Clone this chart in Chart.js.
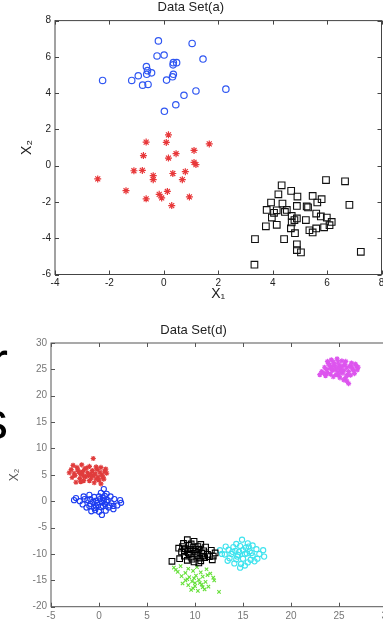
<!DOCTYPE html>
<html>
<head>
<meta charset="utf-8">
<script src="https://cdn.jsdelivr.net/npm/chart.js@4"></script>
<style>
  html, body { margin: 0; padding: 0; overflow: hidden; background: #fff; width: 383px; height: 621px; }
  .panel { position: absolute; left: 0; }
  .big { position: absolute; left: -92px; width: 100px; text-align: right; font: 54px "Liberation Sans", Arial, sans-serif; line-height: 1; color: #000; }
</style>
</head>
<body>
<div class="big" style="top:333px">r</div>
<div class="big" style="top:393px">s</div>
<div class="panel" style="top:0"><canvas id="chartA" width="400" height="310"></canvas></div>
<div class="panel" style="top:310px"><canvas id="chartD" width="400" height="330"></canvas></div>
<script>
// Data Set(a) – drei Gruppen
const aBlue = [[-2.25,4.7],[-0.2,6.88],[1.04,6.74],[-0.25,6.05],[0.01,6.1],[0.35,5.68],[0.47,5.68],[0.34,5.56],[1.44,5.88],[-0.64,5.46],[-0.6,5.24],[-0.45,5.12],[-0.63,5.04],[-0.94,4.96],[-1.18,4.7],[0.35,5.04],[0.32,4.9],[0.1,4.72],[-0.78,4.44],[-0.58,4.48],[1.18,4.12],[2.28,4.22],[0.74,3.88],[0.44,3.36],[0.02,3.0]];
const aRed = [[0.17,1.7],[-0.65,1.3],[0.09,1.28],[1.67,1.2],[1.11,0.84],[-0.75,0.56],[0.45,0.66],[0.17,0.42],[1.11,0.18],[1.18,0.06],[-1.1,-0.28],[-0.79,-0.26],[-0.39,-0.55],[0.33,-0.43],[0.79,-0.33],[-0.39,-0.77],[0.68,-0.77],[-2.43,-0.73],[-1.39,-1.38],[-0.17,-1.58],[-0.08,-1.78],[0.13,-1.42],[-0.65,-1.83],[0.94,-1.72],[0.29,-2.2]];
const aBlack = [[4.33,-1.08],[5.96,-0.79],[6.66,-0.86],[4.21,-1.58],[4.68,-1.39],[4.91,-1.7],[5.47,-1.67],[5.8,-1.85],[5.64,-2.03],[6.82,-2.16],[3.94,-2.03],[4.36,-2.09],[3.78,-2.44],[4.15,-2.46],[4.52,-2.44],[4.89,-2.22],[5.25,-2.25],[4.7,-2.77],[4.89,-2.91],[4.7,-3.13],[5.6,-2.64],[5.77,-2.8],[5.99,-2.86],[6.17,-3.1],[6.09,-3.28],[5.22,-3.0],[3.97,-2.86],[4.15,-3.26],[3.75,-3.34],[4.67,-3.45],[4.82,-3.72],[5.35,-3.56],[5.47,-3.68],[5.6,-3.46],[5.89,-3.4],[3.35,-4.05],[4.42,-4.05],[4.89,-4.34],[4.89,-4.65],[5.04,-4.78],[7.24,-4.75],[3.33,-5.46],[4.05,-2.6],[4.45,-2.55],[5.3,-2.3],[4.8,-3.0]];

// Data Set(d) – sechs Gruppen
const dRed = [[-0.6,8.1],[-2.7,6.8],[-1.8,6.9],[-1.0,6.6],[0.2,6.4],[-2.9,6.0],[-2.2,5.9],[-1.5,6.1],[-0.7,5.8],[0.6,5.7],[-2.6,5.3],[-1.9,5.1],[-1.2,5.4],[-0.4,5.2],[0.3,5.0],[0.8,5.3],[-2.8,4.5],[-2.0,4.3],[-1.4,4.6],[-0.8,4.4],[-0.1,4.6],[0.5,4.2],[-2.4,3.6],[-1.6,3.9],[-0.5,3.5],[0.2,3.3],[-1.1,4.9],[-0.2,6.0],[-1.7,5.6],[0.0,4.0],
  [-2.3,6.4],[-1.3,6.3],[-0.3,6.5],[-2.5,4.9],[-1.6,4.8],[-0.6,4.9],[0.4,4.6],[-1.9,3.7],[-1.0,3.9],[-0.3,4.2],[0.7,6.1],[-2.1,5.6],[-0.9,5.1],[0.1,5.5],[-3.1,5.4]];
const dBlue = [[0.5,2.3],[0.2,1.6],[-1.0,1.2],[0.8,1.4],[-2.4,0.6],[-1.6,0.9],[-0.5,0.8],[0.4,0.6],[1.2,0.9],[-2.0,0.0],[-1.2,0.2],[-0.3,0.1],[0.3,-0.2],[0.9,0.2],[1.6,0.4],[2.2,0.2],[-1.7,-0.6],[-0.9,-0.5],[-0.1,-0.7],[0.6,-0.5],[1.3,-0.4],[1.9,-0.8],[-1.3,-1.2],[-0.5,-1.3],[0.2,-1.1],[1.0,-1.2],[-0.8,-1.9],[0.0,-2.0],[0.7,-1.8],[0.3,-2.6],[1.5,-1.5],[-0.2,-0.3],[0.1,0.4],[-0.6,-0.1],
  [-0.9,0.4],[0.6,1.0],[1.5,-0.9],[-1.0,-0.9],[0.4,-0.9],[-0.4,-1.7],[0.8,-0.1],[-1.5,0.4],[1.1,-0.8],[0.0,0.9],[-0.3,-1.0],[0.5,0.2],[2.3,-0.3],[-2.6,0.2]];
const dBlack = [[9.2,-7.3],[9.9,-7.6],[8.8,-8.0],[10.6,-8.2],[9.4,-8.4],[8.3,-8.9],[9.0,-9.0],[9.8,-8.8],[10.4,-9.1],[11.1,-8.7],[11.7,-9.3],[8.6,-9.6],[9.3,-9.8],[10.0,-9.5],[10.7,-9.9],[11.3,-10.1],[12.1,-9.8],[8.9,-10.4],[9.6,-10.6],[10.3,-10.3],[11.0,-10.7],[11.8,-11.1],[7.6,-11.4],[9.2,-11.2],[9.9,-11.5],[10.6,-11.3],[9.5,-9.2],[10.2,-10.0],[8.4,-10.9],[10.9,-9.4],
  [9.6,-8.1],[10.3,-8.6],[8.9,-9.4],[10.1,-9.2],[10.8,-10.4],[9.4,-10.1],[11.5,-10.5],[9.7,-11.0],[10.5,-10.8],[8.7,-8.6],[11.9,-10.4],[10.4,-11.7]];
const dCyan = [[14.9,-7.3],[14.3,-8.1],[15.5,-8.0],[13.2,-8.6],[14.0,-8.7],[14.7,-8.5],[15.3,-8.8],[16.0,-8.4],[12.6,-9.3],[13.5,-9.2],[14.2,-9.4],[15.0,-9.3],[15.7,-9.5],[16.4,-9.1],[17.1,-9.3],[13.1,-10.1],[13.8,-10.0],[14.5,-10.2],[15.2,-10.0],[16.0,-10.3],[16.7,-10.0],[13.6,-10.8],[14.3,-11.0],[15.0,-10.9],[15.8,-11.1],[16.5,-10.9],[14.1,-11.8],[14.8,-11.9],[15.5,-11.6],[14.7,-12.6],[15.4,-9.9],[14.6,-9.6],
  [13.9,-9.6],[15.9,-9.8],[14.4,-10.5],[16.2,-11.4],[13.4,-11.3],[15.2,-12.2],[15.6,-8.6],[17.2,-10.5],[12.8,-10.0]];
const dGreen = [[7.8,-12.6],[8.5,-12.3],[9.3,-12.8],[10.2,-12.5],[11.2,-12.9],[8.2,-13.4],[9.0,-13.6],[9.8,-13.2],[10.6,-13.5],[11.6,-13.7],[8.6,-14.2],[9.4,-14.4],[10.1,-14.1],[10.8,-14.3],[11.9,-14.5],[9.0,-15.0],[9.7,-15.2],[10.4,-14.9],[11.1,-15.3],[9.3,-15.9],[10.0,-16.1],[10.7,-15.8],[11.4,-16.2],[9.6,-16.8],[10.3,-17.0],[11.0,-16.7],[12.5,-17.2],[8.7,-15.6],[10.0,-15.5],
  [9.9,-14.6],[10.5,-15.5],[9.2,-14.8],[11.3,-14.0],[8.0,-13.0],[9.8,-16.5],[10.8,-16.3],[12.0,-15.0]];
const dMagenta = [[24.2,26.8],[24.8,27.0],[25.3,26.6],[23.9,26.1],[24.5,26.0],[25.0,25.8],[25.6,25.9],[26.3,26.2],[26.8,25.7],[23.5,25.4],[24.1,25.2],[24.6,25.5],[25.2,25.1],[25.8,25.3],[26.4,25.1],[27.0,25.4],[23.2,24.6],[23.8,24.4],[24.3,24.8],[24.9,24.5],[25.4,24.3],[26.0,24.6],[26.6,24.2],[23.6,23.8],[24.4,23.6],[25.0,23.9],[25.7,23.5],[26.2,23.9],[25.5,23.0],[26.0,22.3],[24.7,24.0],[25.3,25.6],[24.0,25.8],[26.5,24.8],[23.0,24.0],[24.9,26.4],
  [24.4,26.4],[25.7,26.5],[23.7,25.0],[24.3,25.5],[25.5,24.8],[26.1,25.6],[26.9,24.9],[24.6,24.9],[25.9,24.0],[23.4,24.3],[24.9,25.2],[25.2,24.6],[26.3,25.5],[24.1,24.1],[25.1,23.4],[26.7,26.0],[23.8,26.5],[25.8,22.8]];

// Achsen
const aXRange = [-4, 8], aXStep = 2;
const aYRange = [-6, 8], aYStep = 2;
const dXRange = [-5, 30], dXStep = 5;
const dYRange = [-20, 30], dYStep = 5;

const toXY = arr => arr.map(p => ({ x: p[0], y: p[1] }));

// Rahmen mit nach innen zeigenden Ticks (wie MATLAB)
const boxPlugin = {
  id: 'box',
  afterDatasetsDraw(chart, args, opts) {
    const { ctx, chartArea: a, scales: { x, y } } = chart;
    ctx.save();
    ctx.strokeStyle = opts.color;
    ctx.lineWidth = 1;
    ctx.strokeRect(a.left, a.top, a.right - a.left, a.bottom - a.top);
    ctx.beginPath();
    x.ticks.forEach(t => {
      const px = Math.round(x.getPixelForValue(t.value)) + 0.5;
      ctx.moveTo(px, a.bottom); ctx.lineTo(px, a.bottom - 4);
      ctx.moveTo(px, a.top); ctx.lineTo(px, a.top + 4);
    });
    y.ticks.forEach(t => {
      const py = Math.round(y.getPixelForValue(t.value)) + 0.5;
      ctx.moveTo(a.left, py); ctx.lineTo(a.left + 4, py);
      ctx.moveTo(a.right, py); ctx.lineTo(a.right - 4, py);
    });
    ctx.stroke();
    ctx.restore();
  }
};

function ds(data, style, color, r, w) {
  return {
    data: toXY(data),
    pointStyle: style,
    pointRadius: r,
    pointBorderColor: color,
    pointBackgroundColor: 'transparent',
    pointBorderWidth: w || 1,
    showLine: false
  };
}

function makeChart(id, cfg) {
  return new Chart(document.getElementById(id), {
    type: 'scatter',
    data: { datasets: cfg.datasets },
    options: {
      responsive: false,
      animation: false,
      events: [],
      layout: { padding: { left: 0, right: cfg.padRight, top: 0, bottom: 0 } },
      plugins: {
        legend: { display: false },
        tooltip: { enabled: false },
        title: {
          display: true, text: cfg.title, color: '#222',
          font: { family: 'Liberation Sans, Arial', size: 13, weight: 'normal' },
          padding: cfg.titlePad
        },
        box: { color: cfg.axisColor }
      },
      scales: {
        x: {
          type: 'linear', min: cfg.xRange[0], max: cfg.xRange[1],
          grid: { display: false, drawTicks: false },
          border: { display: false },
          ticks: { stepSize: cfg.xStep, autoSkip: false, maxRotation: 0, padding: cfg.xTickPad, color: cfg.tickColor,
                   font: { family: 'Liberation Sans, Arial', size: 10 } },
          title: cfg.xTitle,
          afterFit: s => { s.height = cfg.xHeight; }
        },
        y: {
          type: 'linear', min: cfg.yRange[0], max: cfg.yRange[1],
          grid: { display: false, drawTicks: false },
          border: { display: false },
          ticks: { stepSize: cfg.yStep, autoSkip: false, padding: cfg.yTickPad, color: cfg.tickColor,
                   font: { family: 'Liberation Sans, Arial', size: 10 } },
          title: cfg.yTitle,
          afterFit: s => { s.width = cfg.yWidth; }
        }
      }
    },
    plugins: [boxPlugin]
  });
}

makeChart('chartA', {
  title: 'Data Set(a)',
  titlePad: { top: 0, bottom: 5 },
  xRange: aXRange, xStep: aXStep, yRange: aYRange, yStep: aYStep,
  padRight: 18.5, xHeight: 35.5, yWidth: 55,
  xTickPad: 3, yTickPad: 4,
  axisColor: '#444', tickColor: '#222',
  xTitle: { display: true, text: 'X\u2081', color: '#222', font: { family: 'Liberation Sans, Arial', size: 14 }, padding: { top: 0, bottom: 7 } },
  yTitle: { display: true, text: 'X\u2082', color: '#222', font: { family: 'Liberation Sans, Arial', size: 14 }, padding: { top: 18.5, bottom: 0 } },
  datasets: [
    ds(aBlue, 'circle', '#3057f2', 3.2, 1.2),
    ds(aRed, 'star', '#e8383a', 3.5, 1.2),
    ds(aBlack, 'rect', '#111', 4.7, 1.1)
  ]
});

makeChart('chartD', {
  title: 'Data Set(d)',
  titlePad: { top: 13, bottom: 4.4 },
  xRange: dXRange, xStep: dXStep, yRange: dYRange, yStep: dYStep,
  padRight: 13, xHeight: 33.3, yWidth: 51,
  xTickPad: 4, yTickPad: 4,
  axisColor: '#555', tickColor: '#777',
  xTitle: { display: false },
  yTitle: { display: true, text: 'X\u2082', color: '#555', font: { family: 'Liberation Sans, Arial', size: 12 }, padding: { top: 7.8, bottom: 0 } },
  datasets: [
    ds(dRed, 'star', '#e03c3c', 2.6, 1.2),
    ds(dBlue, 'circle', '#1d3df0', 2.6, 1.1),
    ds(dBlack, 'rect', '#000', 4, 1.1),
    ds(dCyan, 'circle', '#3fe3ee', 2.6, 1.1),
    ds(dGreen, 'crossRot', '#66e03a', 2.4, 1.1),
    ds(dMagenta, 'star', '#dd55ee', 2.6, 1.2)
  ]
});
</script>
</body>
</html>
